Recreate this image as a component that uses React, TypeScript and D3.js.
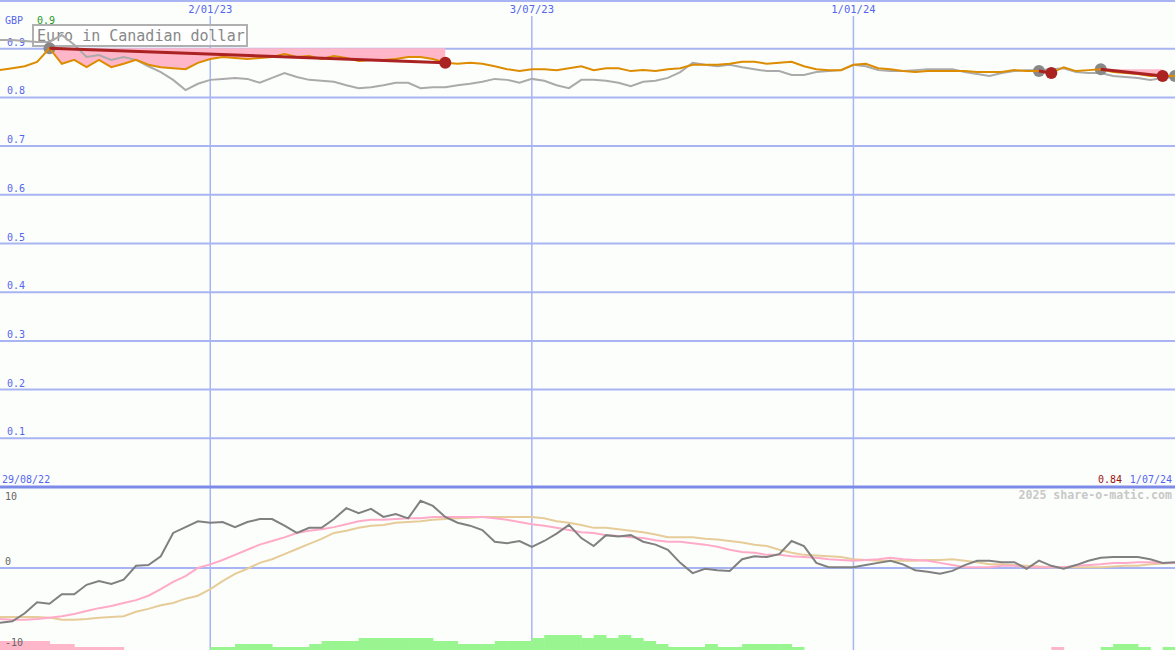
import React from "react";
import * as d3 from "d3";

// ---------- DATA ----------
const priceSeries = [
  0.856, 0.860, 0.864, 0.873, 0.901, 0.869, 0.877, 0.862, 0.877, 0.862,
  0.869, 0.877, 0.867, 0.862, 0.860, 0.858, 0.871, 0.879, 0.883, 0.881,
  0.879, 0.881, 0.883, 0.889, 0.883, 0.885, 0.879, 0.885, 0.881, 0.875,
  0.877, 0.877, 0.879, 0.883, 0.883, 0.879, 0.871, 0.869, 0.871, 0.869,
  0.864, 0.858, 0.854, 0.858, 0.858, 0.856, 0.860, 0.864, 0.856, 0.860,
  0.860, 0.854, 0.856, 0.854, 0.858, 0.860, 0.867, 0.867, 0.867, 0.869,
  0.873, 0.873, 0.869, 0.871, 0.873, 0.864, 0.858, 0.856, 0.856, 0.867,
  0.869, 0.860, 0.858, 0.854, 0.852, 0.854, 0.854, 0.854, 0.854, 0.852,
  0.852, 0.852, 0.856, 0.854, 0.854, 0.850, 0.862, 0.854, 0.856, 0.858,
  0.852, 0.850, 0.848, 0.844, 0.844, 0.844,
];

const compareSeries = [
  0.918, 0.918, 0.916, 0.914, 0.914, 0.928, 0.908, 0.883, 0.887, 0.877,
  0.883, 0.877, 0.864, 0.852, 0.836, 0.815, 0.828, 0.836, 0.838, 0.840,
  0.838, 0.830, 0.840, 0.850, 0.842, 0.836, 0.834, 0.832, 0.825, 0.819,
  0.821, 0.825, 0.830, 0.830, 0.819, 0.821, 0.821, 0.825, 0.828, 0.832,
  0.838, 0.836, 0.830, 0.838, 0.834, 0.825, 0.819, 0.836, 0.836, 0.834,
  0.830, 0.823, 0.832, 0.834, 0.840, 0.852, 0.871, 0.867, 0.864, 0.867,
  0.862, 0.858, 0.854, 0.854, 0.846, 0.846, 0.852, 0.854, 0.856, 0.867,
  0.864, 0.856, 0.854, 0.854, 0.856, 0.858, 0.858, 0.858, 0.852, 0.848,
  0.844, 0.850, 0.854, 0.856, 0.856, 0.858, 0.860, 0.852, 0.850, 0.850,
  0.844, 0.842, 0.840, 0.836, 0.840, 0.842,
];

const momentum = [
  -7.5, -7.3, -6.2, -4.7, -4.9, -3.6, -3.6, -2.3, -1.8, -2.2,
  -1.6, 0.3, 0.4, 1.6, 4.8, 5.6, 6.4, 6.2, 6.3, 5.6,
  6.3, 6.7, 6.7, 5.8, 4.8, 5.5, 5.5, 6.7, 8.2, 7.5,
  8.1, 7.0, 7.4, 6.8, 9.2, 8.5, 7.0, 6.2, 5.8, 5.2,
  3.6, 3.4, 3.7, 2.9, 3.7, 4.7, 5.9, 4.1, 3.0, 4.5,
  4.3, 4.5, 3.6, 3.2, 2.5, 0.7, -0.7, -0.1, -0.3, -0.4,
  1.2, 1.6, 1.5, 1.9, 3.7, 3.0, 0.7, 0.1, 0.1, 0.1,
  0.4, 0.7, 1.0, 0.5, -0.3, -0.5, -0.8, -0.4, 0.4, 1.0,
  1.0, 0.8, 0.8, -0.1, 1.0, 0.3, -0.1, 0.4, 1.0, 1.4,
  1.5, 1.5, 1.5, 1.2, 0.7, 0.8,
];

const maFast = [
  -7.0, -7.1, -7.1, -7.0, -6.8, -6.6, -6.3, -5.9, -5.5, -5.2,
  -4.8, -4.4, -3.8, -2.9, -1.9, -1.1, 0.0, 0.5, 1.1, 1.8,
  2.5, 3.2, 3.7, 4.2, 4.8, 5.1, 5.3, 5.6, 6.0, 6.4,
  6.6, 6.6, 6.7, 6.8, 6.8, 7.0, 7.0, 7.0, 7.0, 7.0,
  6.8, 6.6, 6.3, 6.0, 5.8, 5.5, 5.2, 4.9, 4.8, 4.5,
  4.4, 4.2, 4.1, 3.8, 3.6, 3.6, 3.4, 3.2, 2.9, 2.5,
  2.2, 2.1, 1.8, 1.8, 1.6, 1.5, 1.4, 1.2, 1.1, 1.0,
  1.1, 1.2, 1.4, 1.2, 1.1, 1.0, 0.7, 0.4, 0.1, 0.1,
  0.1, 0.3, 0.3, 0.1, 0.1, 0.1, 0.1, 0.3, 0.4, 0.5,
  0.7, 0.7, 0.8, 0.8, 0.7, 0.7,
];

const maSlow = [
  -6.7, -6.7, -6.7, -6.7, -6.8, -7.1, -7.1, -7.0, -6.8, -6.7,
  -6.6, -6.0, -5.6, -5.1, -4.8, -4.2, -3.8, -2.9, -1.8, -0.8,
  -0.1, 0.7, 1.2, 1.9, 2.6, 3.3, 4.0, 4.8, 5.1, 5.5,
  5.8, 5.9, 6.2, 6.3, 6.4, 6.6, 6.7, 6.8, 6.9, 7.0,
  7.0, 7.0, 7.0, 7.0, 6.8, 6.4, 6.2, 5.9, 5.5, 5.5,
  5.3, 5.1, 4.9, 4.6, 4.2, 4.2, 4.2, 4.0, 3.9, 3.7,
  3.5, 3.2, 3.0, 2.5, 2.1, 1.8, 1.7, 1.6, 1.5, 1.2,
  1.1, 1.0, 1.0, 1.0, 1.0, 1.1, 1.1, 1.2, 1.0, 0.8,
  0.5, 0.5, 0.4, 0.3, 0.2, 0.1, 0.1, 0.1, 0.1, 0.1,
  0.2, 0.3, 0.3, 0.5, 0.6, 0.7,
];

const signalBars = [
  -3, -3, -3, -3, -2, -2, -1, -1, -1, -1,
  0, 0, 0, 0, 0, 0, 0, 1, 1, 2,
  2, 2, 1, 1, 1, 2, 3, 3, 3, 4,
  4, 4, 4, 4, 4, 3, 3, 2, 2, 2,
  3, 3, 3, 4, 5, 5, 5, 4, 5, 4,
  5, 4, 3, 2, 1, 1, 1, 2, 1, 1,
  2, 2, 2, 2, 1, 0, 0, 0, 0, 0,
  0, 0, 0, 0, 0, 0, 0, 0, 0, 0,
  0, 0, 0, 0, 0, -1, 0, 0, 0, 1,
  2, 2, 1, 0, 1, 0,
];

const trendStarts = [4, 84, 89, 95];
const trendEnds = [36, 85, 94];
const trendPairs = [[4, 36], [84, 85], [89, 94]];

const topTicks = [0.1, 0.2, 0.3, 0.4, 0.5, 0.6, 0.7, 0.8, 0.9];
const bottomTicks = [10, 0, -10];
const gridDates = [new Date(2023, 0, 2), new Date(2023, 6, 3), new Date(2024, 0, 1)];
const gridDateLabels = ["2/01/23", "3/07/23", "1/01/24"];

const TITLE = "Euro in Canadian dollar";
const START = new Date(2022, 8, 5);
const END = new Date(2024, 6, 1);

// ---------- CHART ----------
const W = 1175;
const H = 650;
const MONO = "'DejaVu Sans Mono', monospace";
const BLUE_TEXT = "#5566ee";
const GRID = "#a9b5f2";

export default function App() {
  const dates = priceSeries.map((_, i) => d3.timeDay.offset(START, i * 7));
  const x = d3.scaleTime().domain([START, END]).range([0, W]);
  const yTop = d3.scaleLinear().domain([0, 1]).range([487, 0]);
  const yBot = d3.scaleLinear().domain([-10, 10]).range([641, 495]);
  const barH = d3.scaleLinear().domain([0, 5]).range([0, 15]);
  const weekW = x(dates[1]) - x(dates[0]);

  const lineTop = (arr: number[]) =>
    d3.line<number>().x((_, i) => x(dates[i])).y((d) => yTop(d))(arr) || "";
  const lineBot = (arr: number[]) =>
    d3.line<number>().x((_, i) => x(dates[i])).y((d) => yBot(d))(arr) || "";

  const fills = trendPairs.map(([s, e]) => {
    const idx = d3.range(s, e + 1);
    const base = yTop(priceSeries[s]);
    return (
      d3
        .area<number>()
        .x((i) => x(dates[i]))
        .y0(base)
        .y1((i) => yTop(priceSeries[i]))(idx) || ""
    );
  });

  return (
    <svg
      width={W}
      height={H}
      style={{ position: "absolute", left: 0, top: 0, display: "block", background: "#fcfefc" }}
    >
      <rect x={0} y={0} width={W} height={H} fill="#fcfefc" />

      {/* vertical grid */}
      {gridDates.map((d, i) => (
        <g key={"vg" + i}>
          <line x1={x(d)} x2={x(d)} y1={16} y2={H} stroke={GRID} strokeWidth={1.5} />
          <text x={x(d)} y={13} textAnchor="middle" fontFamily={MONO} fontSize={10.5} fill={BLUE_TEXT}>
            {gridDateLabels[i]}
          </text>
        </g>
      ))}

      {/* top border */}
      <line x1={0} x2={W} y1={1} y2={1} stroke={GRID} strokeWidth={2} />

      {/* horizontal grid top */}
      {topTicks.map((t) => (
        <g key={"ht" + t}>
          <line x1={0} x2={W} y1={yTop(t)} y2={yTop(t)} stroke={GRID} strokeWidth={2} />
          <text x={7} y={yTop(t) - 3} fontFamily={MONO} fontSize={10} fill={BLUE_TEXT}>
            {t.toFixed(1)}
          </text>
        </g>
      ))}

      {/* separator */}
      <line x1={0} x2={W} y1={yTop(0)} y2={yTop(0)} stroke="#7d8be8" strokeWidth={3} />

      {/* bottom zero line */}
      <line x1={0} x2={W} y1={yBot(0)} y2={yBot(0)} stroke={GRID} strokeWidth={2} />

      {/* labels */}
      <text x={5} y={24} fontFamily={MONO} fontSize={10} fill={BLUE_TEXT}>GBP</text>
      <text x={37} y={24} fontFamily={MONO} fontSize={10} fill="#229922">
        {priceSeries[trendStarts[0]].toFixed(1)}
      </text>
      <text x={2} y={483} fontFamily={MONO} fontSize={10} fill={BLUE_TEXT}>29/08/22</text>
      <text x={1122} y={483} textAnchor="end" fontFamily={MONO} fontSize={10} fill="#991111">
        {priceSeries[priceSeries.length - 1].toFixed(2)}
      </text>
      <text x={1172} y={483} textAnchor="end" fontFamily={MONO} fontSize={10} fill={BLUE_TEXT}>1/07/24</text>
      <text x={1172} y={499} textAnchor="end" fontFamily={MONO} fontSize={11.6} fontWeight="bold" fill="#c8c8c8">
        2025 share-o-matic.com
      </text>

      {/* title box */}
      <rect x={33} y={25} width={214} height={21} fill="#ffffff" fillOpacity={0.7} stroke="#b0b0b0" strokeWidth={2} />
      <text x={37} y={41} fontFamily={MONO} fontSize={15} fill="#888">{TITLE}</text>

      {/* pink fills */}
      {fills.map((p, i) => (
        <path key={"f" + i} d={p} fill="#ffb6c8" stroke="none" />
      ))}

      {/* top lines */}
      <path d={lineTop(compareSeries)} fill="none" stroke="#aaaaaa" strokeWidth={2} />
      {trendStarts.map((i) => (
        <circle key={"gs" + i} cx={x(dates[i])} cy={yTop(priceSeries[i])} r={6} fill="#888888" />
      ))}
      <path d={lineTop(priceSeries)} fill="none" stroke="#dd8c00" strokeWidth={2} />
      {trendPairs.map(([s, e], i) => (
        <line
          key={"tr" + i}
          x1={x(dates[s])}
          y1={yTop(priceSeries[s])}
          x2={x(dates[e])}
          y2={yTop(priceSeries[e])}
          stroke="#aa2222"
          strokeWidth={3}
        />
      ))}
      {trendEnds.map((i) => (
        <circle key={"re" + i} cx={x(dates[i])} cy={yTop(priceSeries[i])} r={6} fill="#aa2222" />
      ))}

      {/* bottom bars */}
      {signalBars.map((v, i) =>
        v === 0 ? null : (
          <rect
            key={"b" + i}
            x={x(dates[i])}
            y={H - barH(Math.abs(v))}
            width={weekW + 0.5}
            height={barH(Math.abs(v))}
            fill={v > 0 ? "#99f590" : "#ffb6c8"}
          />
        )
      )}

      {/* bottom tick labels (over bars) */}
      {bottomTicks.map((t) => (
        <text
          key={"bt" + t}
          x={5}
          y={t === 0 ? yBot(t) - 3 : yBot(t) + 5}
          fontFamily={MONO}
          fontSize={10}
          fill="#666"
        >
          {t}
        </text>
      ))}

      {/* bottom lines */}
      <path d={lineBot(maSlow)} fill="none" stroke="#e6cc99" strokeWidth={2} />
      <path d={lineBot(maFast)} fill="none" stroke="#ffaac8" strokeWidth={2} />
      <path d={lineBot(momentum)} fill="none" stroke="#808080" strokeWidth={2} />
    </svg>
  );
}
